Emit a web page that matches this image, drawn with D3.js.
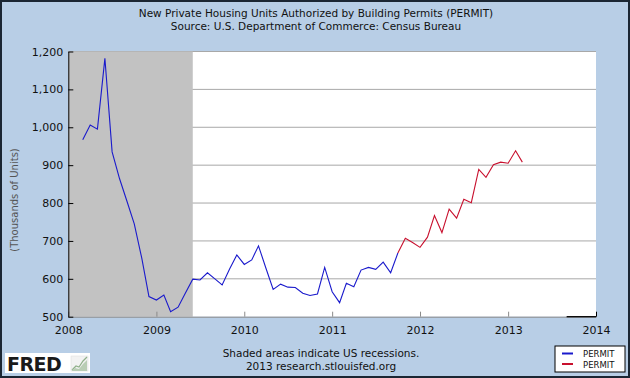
<!DOCTYPE html>
<html>
<head>
<meta charset="utf-8">
<script src="https://cdn.jsdelivr.net/npm/d3@7/dist/d3.min.js"></script>
<style>
  html, body { margin: 0; padding: 0; background: #fff; }
  svg { display: block; }
  text { font-family: "DejaVu Sans", Verdana, sans-serif; }
</style>
</head>
<body>
<svg id="chart" width="630" height="378"></svg>
<script>
// ---- data ----
const titleLines = ["New Private Housing Units Authorized by Building Permits (PERMIT)",
                    "Source: U.S. Department of Commerce: Census Bureau"];
const yLabel = "(Thousands of Units)";
const captionLines = ["Shaded areas indicate US recessions.", "2013 research.stlouisfed.org"];
const seriesNames = ["PERMIT", "PERMIT"];

const blueStart = "2008-03";
const blueValues = [967, 1006, 995, 1182, 935, 864, 804, 745, 655, 553,
                    544, 557, 513, 525, 562, 599, 597, 616, 600, 584, 626, 663,
                    638, 650, 687, 628, 572, 586, 578, 577, 562, 556, 560, 630,
                    566, 537, 588, 579, 623, 630, 625, 644, 616, 668];
const redStart = "2011-10";
const redValues = [668, 707, 696, 683, 710, 767, 722, 784, 760, 810, 801, 889,
                   868, 901, 908, 905, 938, 908];

const recessions = [["2007-12", "2009-06"]];
const xTickYears = [2008, 2009, 2010, 2011, 2012, 2013, 2014];
const yTicks = [500, 600, 700, 800, 900, 1000, 1100, 1200];
const xDomain = ["2008-01", "2014-01"];
const yDomain = [500, 1200];
const axisHighlight = ["2013-09", "2014-01"];

// ---- helpers ----
const parseM = d3.timeParse("%Y-%m");
function toSeries(start, values) {
  const s = parseM(start);
  const dates = d3.timeMonth.range(s, d3.timeMonth.offset(s, values.length));
  return values.map((v, i) => ({ date: dates[i], value: v }));
}
const blue = toSeries(blueStart, blueValues);
const red = toSeries(redStart, redValues);

// ---- layout ----
const W = 630, H = 378;
const plot = { left: 68.3, right: 596, top: 51.5, bottom: 316.7 };

const svg = d3.select("#chart");

svg.append("rect").attr("x", 1).attr("y", 1).attr("width", W - 2).attr("height", H - 2)
  .attr("fill", "#B8CEE6").attr("stroke", "#1b2633").attr("stroke-width", 2);

const x = d3.scaleTime().domain(xDomain.map(parseM)).range([plot.left, plot.right]);
const y = d3.scaleLinear().domain(yDomain).range([plot.bottom, plot.top]);

// plot background
svg.append("rect").attr("x", plot.left).attr("y", plot.top)
  .attr("width", plot.right - plot.left).attr("height", plot.bottom - plot.top)
  .attr("fill", "#ffffff");

// gridlines
svg.append("g").selectAll("line").data(yTicks.filter(t => t > yDomain[0])).join("line")
  .attr("x1", plot.left).attr("x2", plot.right)
  .attr("y1", d => y(d)).attr("y2", d => y(d))
  .attr("stroke", "#a8a8a8").attr("stroke-width", 1);

// recession shading
svg.append("g").selectAll("rect").data(recessions).join("rect")
  .attr("x", d => Math.max(plot.left, x(parseM(d[0]))))
  .attr("width", d => x(parseM(d[1])) - Math.max(plot.left, x(parseM(d[0]))))
  .attr("y", plot.top).attr("height", plot.bottom - plot.top)
  .attr("fill", "#c2c2c2");

// x axis
const xAxis = d3.axisBottom(x)
  .tickValues(xTickYears.map(yr => new Date(yr, 0, 1)))
  .tickFormat(d3.timeFormat("%Y"))
  .tickSizeInner(-5).tickSizeOuter(0).tickPadding(10);
const gx = svg.append("g").attr("transform", `translate(0,${plot.bottom})`).call(xAxis);
gx.select(".domain").attr("stroke", "#8a8a8a");
gx.selectAll(".tick line").attr("stroke", "#8a8a8a");
gx.selectAll(".tick text").attr("font-size", 11).attr("fill", "#111")
  .attr("font-family", "DejaVu Sans, Verdana, sans-serif");
gx.selectAll(".tick").filter(d => d.getFullYear() === 2014).select("line").attr("stroke", "#000");

// highlighted axis end segment
svg.append("line")
  .attr("x1", x(parseM(axisHighlight[0]))).attr("x2", x(parseM(axisHighlight[1])))
  .attr("y1", plot.bottom).attr("y2", plot.bottom)
  .attr("stroke", "#000").attr("stroke-width", 1.3);

// y axis
const yAxis = d3.axisLeft(y).tickValues(yTicks).tickFormat(d3.format(","))
  .tickSizeInner(-5).tickSizeOuter(0).tickPadding(5);
const gy = svg.append("g").attr("transform", `translate(${plot.left},0)`).call(yAxis);
gy.select(".domain").attr("stroke", "#000");
gy.selectAll(".tick line").attr("stroke", "#000");
gy.selectAll(".tick text").attr("font-size", 11).attr("fill", "#111")
  .attr("font-family", "DejaVu Sans, Verdana, sans-serif");

// lines
const line = d3.line().x(d => x(d.date)).y(d => y(d.value));
svg.append("path").datum(blue).attr("d", line)
  .attr("fill", "none").attr("stroke", "#1a1acc").attr("stroke-width", 1.1);
svg.append("path").datum(red).attr("d", line)
  .attr("fill", "none").attr("stroke", "#c8102e").attr("stroke-width", 1.1);

// titles
svg.append("g").selectAll("text").data(titleLines).join("text")
  .attr("x", 316).attr("y", (d, i) => 17 + i * 13)
  .attr("text-anchor", "middle").attr("font-size", 10.5).attr("fill", "#111")
  .text(d => d);

// y label
svg.append("text")
  .attr("transform", `translate(18,200) rotate(-90)`)
  .attr("text-anchor", "middle").attr("font-size", 10).attr("fill", "#555")
  .text(yLabel);

// caption
svg.append("g").selectAll("text").data(captionLines).join("text")
  .attr("x", 321).attr("y", (d, i) => 357 + i * 13)
  .attr("text-anchor", "middle").attr("font-size", 10.5).attr("fill", "#111")
  .text(d => d);

// legend
const lg = svg.append("g");
lg.append("rect").attr("x", 555).attr("y", 346).attr("width", 70).attr("height", 26)
  .attr("fill", "#fff").attr("stroke", "#000").attr("stroke-width", 1);
const legendColors = ["#1a1acc", "#c8102e"];
seriesNames.forEach((n, i) => {
  lg.append("line").attr("x1", 562).attr("x2", 573)
    .attr("y1", 353.5 + i * 10.5).attr("y2", 353.5 + i * 10.5)
    .attr("stroke", legendColors[i]).attr("stroke-width", 2);
  lg.append("text").attr("x", 583).attr("y", 357 + i * 10.5)
    .attr("font-size", 8.5).attr("fill", "#111").text(n);
});

// FRED logo
const logo = svg.append("g");
logo.append("rect").attr("x", 5).attr("y", 353).attr("width", 85).attr("height", 20).attr("fill", "#fff");
logo.append("text").attr("x", 7).attr("y", 371).attr("font-size", 19).attr("font-weight", "bold")
  .attr("font-family", "Liberation Sans, Arial, sans-serif").attr("fill", "#1a1a1a")
  .attr("letter-spacing", -0.5).text("FRED");
logo.append("rect").attr("x", 71).attr("y", 356).attr("width", 17).attr("height", 15)
  .attr("fill", "#f2f2f2").attr("stroke", "#dcdcdc").attr("stroke-width", 0.5);
logo.append("path").attr("d", "M72,370 L76,366 L79,367 L83,361 L87,357")
  .attr("fill", "none").attr("stroke", "#8fb08a").attr("stroke-width", 1.2);
logo.append("path").attr("d", "M72,370 L75,368 L79,369 L83,364 L87,360 L87,371 L72,371Z")
  .attr("fill", "#b9cdb5").attr("stroke", "none");
</script>
</body>
</html>
